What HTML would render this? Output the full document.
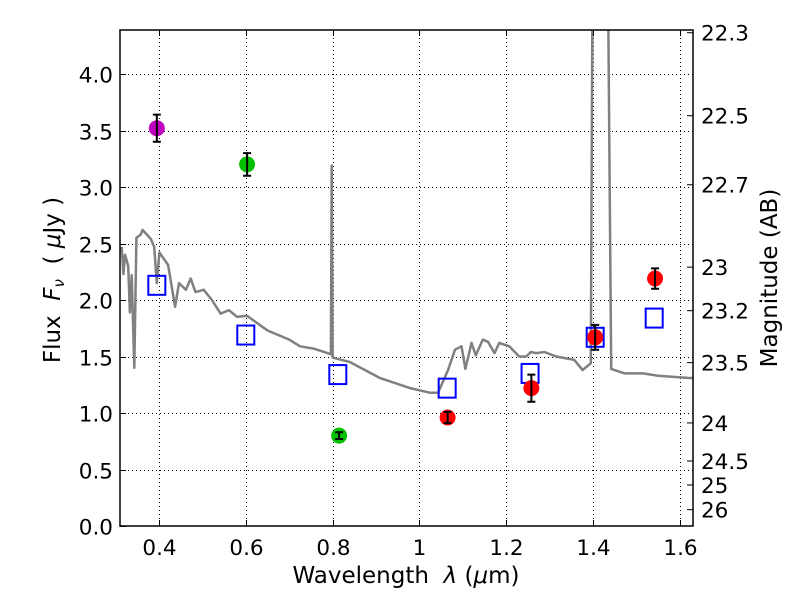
<!DOCTYPE html>
<html><head><meta charset="utf-8"><style>
body{margin:0;background:#fff}
text{font-family:"DejaVu Sans","Liberation Sans",sans-serif;fill:#000}
</style></head><body>
<svg id="chart" width="800" height="600" xmlns="http://www.w3.org/2000/svg">
<defs><clipPath id="clip"><rect x="120" y="30" width="573" height="496"/></clipPath></defs>
<rect width="800" height="600" fill="#fff"/>
<g id="grid"></g><g id="spec"></g><g id="marks"></g><g id="axes"></g>
</svg>
<script>
const specWave=[0.314,0.318,0.322,0.329,0.333,0.337,0.343,0.348,0.358,0.362,0.372,0.381,0.389,0.395,0.401,0.412,0.421,0.437,0.446,0.462,0.473,0.484,0.503,0.522,0.542,0.561,0.580,0.603,0.65,0.70,0.725,0.756,0.796,0.798,0.800,0.840,0.909,0.978,1.024,1.043,1.066,1.082,1.097,1.106,1.12,1.13,1.146,1.158,1.173,1.184,1.207,1.230,1.246,1.257,1.269,1.288,1.315,1.357,1.376,1.395,1.399,1.434,1.442,1.473,1.515,1.549,1.622,1.63];
const specFlux=[2.47,2.23,2.40,2.30,1.89,2.22,1.40,2.55,2.58,2.62,2.58,2.54,2.47,2.15,2.42,2.36,2.31,1.94,2.15,2.09,2.19,2.07,2.09,2.00,1.88,1.91,1.85,1.86,1.73,1.65,1.59,1.57,1.52,3.19,1.49,1.45,1.31,1.22,1.18,1.18,1.38,1.56,1.59,1.39,1.62,1.51,1.65,1.63,1.53,1.62,1.59,1.50,1.50,1.54,1.53,1.54,1.50,1.47,1.38,1.44,5.0,5.0,1.39,1.35,1.35,1.33,1.31,1.31];
const modelWave=[0.395,0.60,0.812,1.064,1.255,1.405,1.541];
const modelFlux=[2.13,1.69,1.34,1.22,1.35,1.67,1.84];
const obsWave=[0.395,0.603,0.815,1.065,1.258,1.405,1.543];
const obsFlux=[3.52,3.20,0.80,0.96,1.22,1.67,2.19];
const obsErr=[0.12,0.10,0.03,0.05,0.12,0.11,0.09];
const obsColor=['#bf00bf','#00c000','#00c000','#ff0000','#ff0000','#ff0000','#ff0000'];
const xTicks=[0.4,0.6,0.8,1.0,1.2,1.4,1.6];
const xTickLabels=['0.4','0.6','0.8','1','1.2','1.4','1.6'];
const yTicks=[0,0.5,1,1.5,2,2.5,3,3.5,4];
const yTickLabels=['0.0','0.5','1.0','1.5','2.0','2.5','3.0','3.5','4.0'];
const magTicks=[22.3,22.5,22.7,23,23.2,23.5,24,24.5,25,26];
const magTickLabels=['22.3','22.5','22.7','23','23.2','23.5','24','24.5','25','26'];

const L=120,R=693,T=30,B=526;
const X=v=>159+(v-0.4)*434;
const Y=v=>526-v*113;
const NS='http://www.w3.org/2000/svg';
function mk(tag,attrs,parent){const e=document.createElementNS(NS,tag);for(const k in attrs)e.setAttribute(k,attrs[k]);parent.appendChild(e);return e;}
const grid=document.getElementById('grid'),spec=document.getElementById('spec'),marks=document.getElementById('marks'),axes=document.getElementById('axes');

xTicks.forEach((t,i)=>{
  const x=Math.round(X(t))+0.5;
  const g=mk('line',{x1:x,x2:x,y1:T,y2:B,stroke:'#000','stroke-width':1,'stroke-dasharray':'1,3'},grid);
  
  
  mk('line',{x1:x,x2:x,y1:B,y2:B-6,stroke:'#000'},axes);
  mk('line',{x1:x,x2:x,y1:T,y2:T+6,stroke:'#000'},axes);
  const tx=mk('text',{x:x,y:B+29,'font-size':21.5,'text-anchor':'middle'},axes);
  tx.textContent=xTickLabels[i];
  
  
});
yTicks.forEach((t,i)=>{
  const y=Math.round(Y(t))+0.5;
  if(t>0){const g=mk('line',{x1:L,x2:R,y1:y,y2:y,stroke:'#000','stroke-width':1,'stroke-dasharray':'1,3'},grid);
  
  }
  mk('line',{x1:L,x2:L+6,y1:y,y2:y,stroke:'#000'},axes);
  const tx=mk('text',{x:L-7,y:y+8,'font-size':21.5,'text-anchor':'end'},axes);
  tx.textContent=yTickLabels[i];
  
  
});
magTicks.forEach((m,i)=>{
  const y=Y(Math.pow(10,(23.9-m)/2.5));
  mk('line',{x1:R,x2:R-6,y1:y,y2:y,stroke:'#000'},axes);
  const tx=mk('text',{x:R+8,y:y+8,'font-size':21.5},axes);
  tx.textContent=magTickLabels[i];
  
  
});

const pts=specWave.map((w,i)=>X(w).toFixed(1)+','+Y(specFlux[i]).toFixed(1)).join(' ');
const pl=mk('polyline',{points:pts,fill:'none',stroke:'#808080','stroke-width':2.5,'clip-path':'url(#clip)','stroke-linejoin':'round'},spec);



modelWave.forEach((w,i)=>{
  const r=mk('rect',{x:X(w)-8.5,y:Y(modelFlux[i])-9.5,width:17,height:19,fill:'none',stroke:'#0000ff','stroke-width':2},marks);
  
  
});
obsWave.forEach((w,i)=>{
  const x=X(w),y=Y(obsFlux[i]);
  const c=mk('circle',{cx:x,cy:y,r:8,fill:obsColor[i]},marks);
  
  
  const y1=Y(obsFlux[i]+obsErr[i]),y2=Y(obsFlux[i]-obsErr[i]);
  const e=mk('path',{d:`M${x},${y1}V${y2}M${x-4},${y1}H${x+4}M${x-4},${y2}H${x+4}`,stroke:'#000','stroke-width':2,fill:'none'},marks);
  
  
});
const fr=mk('rect',{x:L,y:T,width:R-L,height:B-T,fill:'none',stroke:'#000','stroke-width':1.5},axes);


</script>
<svg style="position:absolute;left:0;top:0" width="800" height="600" xmlns="http://www.w3.org/2000/svg">
<text x="406" y="583" font-size="23" text-anchor="middle" xml:space="preserve">Wavelength  <tspan font-style="italic">λ</tspan> (<tspan font-style="italic">μ</tspan>m)</text>
<text transform="translate(60,280) rotate(-90)" font-size="23" text-anchor="middle" xml:space="preserve">Flux  <tspan font-style="italic">F</tspan><tspan font-style="italic" font-size="15" dy="4">ν</tspan><tspan dy="-4">  ( </tspan><tspan font-style="italic">μ</tspan>Jy )</text>
<text transform="translate(777,278) rotate(-90)" font-size="23" text-anchor="middle">Magnitude (AB)</text>
</svg>
</body></html>
